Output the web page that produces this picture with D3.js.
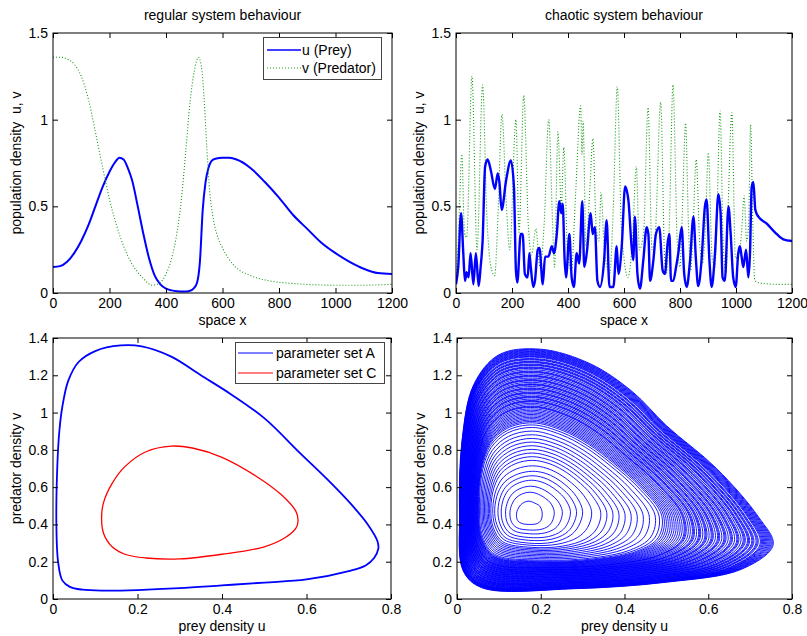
<!DOCTYPE html>
<html>
<head>
<meta charset="utf-8">
<script src="https://cdn.jsdelivr.net/npm/d3@7"></script>
<style>
  body { margin: 0; background: #fff; }
  text { font-family: "Liberation Sans", Arial, sans-serif; font-size: 14px; fill: #000; white-space: pre; }
</style>
</head>
<body>
<svg width="807" height="636"></svg>
<script>
// ---- regular system (top left) ----
const regXu = [0, 25, 50, 75, 100, 125, 150, 175, 200, 220, 235, 250, 265, 280, 300, 320, 340, 360, 380, 400, 420, 440, 460, 480, 500, 510, 520, 530, 540, 550, 560, 575, 600, 625, 650, 700, 750, 800, 850, 900, 950, 1000, 1050, 1100, 1150, 1200];
const regU = [0.15, 0.155, 0.18, 0.23, 0.30, 0.39, 0.50, 0.61, 0.70, 0.755, 0.78, 0.77, 0.72, 0.65, 0.50, 0.34, 0.20, 0.10, 0.05, 0.025, 0.015, 0.01, 0.008, 0.01, 0.03, 0.06, 0.18, 0.48, 0.64, 0.72, 0.76, 0.775, 0.78, 0.78, 0.77, 0.72, 0.64, 0.55, 0.45, 0.37, 0.29, 0.23, 0.18, 0.14, 0.115, 0.11];
const regXv = [0, 25, 50, 75, 100, 125, 150, 175, 200, 225, 250, 275, 300, 325, 350, 375, 400, 420, 440, 455, 470, 485, 500, 515, 525, 535, 545, 555, 565, 580, 600, 640, 700, 760, 850, 1000, 1100, 1200];
const regV = [1.36, 1.36, 1.35, 1.32, 1.25, 1.12, 0.93, 0.73, 0.54, 0.39, 0.27, 0.18, 0.12, 0.075, 0.045, 0.055, 0.11, 0.20, 0.36, 0.55, 0.82, 1.10, 1.28, 1.36, 1.31, 1.12, 0.82, 0.58, 0.45, 0.34, 0.26, 0.16, 0.10, 0.072, 0.055, 0.045, 0.045, 0.05];

// ---- chaotic system (top right) ----
const chaosXu = [0, 8, 18, 26, 32, 38, 45, 52, 62, 71, 81, 88, 95, 104, 113, 124, 139, 149, 155, 163, 179, 196, 207, 214, 219, 231, 238, 246, 256, 262, 267, 276, 282, 292, 298, 310, 318, 330, 342, 350, 360, 369, 376, 381, 388, 393, 405, 413, 421, 431, 440, 451, 458, 467, 481, 488, 496, 505, 514, 529, 538, 548, 562, 574, 580, 592, 604, 616, 627, 633, 639, 648, 657, 669, 681, 687, 693, 705, 714, 726, 738, 746, 756, 762, 768, 776, 786, 794, 806, 815, 824, 836, 848, 857, 865, 877, 889, 895, 905, 913, 925, 937, 945, 952, 960, 973, 981, 990, 999, 1008, 1014, 1020, 1026, 1036, 1044, 1050, 1056, 1062, 1069, 1080, 1110, 1139, 1169, 1200];
const chaosU = [0.05, 0.15, 0.46, 0.23, 0.07, 0.12, 0.09, 0.23, 0.05, 0.23, 0.04, 0.15, 0.30, 0.73, 0.77, 0.71, 0.60, 0.69, 0.64, 0.48, 0.65, 0.765, 0.61, 0.13, 0.06, 0.34, 0.34, 0.11, 0.09, 0.23, 0.15, 0.035, 0.07, 0.25, 0.26, 0.05, 0.21, 0.21, 0.27, 0.23, 0.34, 0.53, 0.46, 0.515, 0.19, 0.09, 0.34, 0.09, 0.035, 0.23, 0.17, 0.53, 0.15, 0.23, 0.46, 0.34, 0.38, 0.07, 0.035, 0.19, 0.42, 0.035, 0.035, 0.27, 0.11, 0.27, 0.615, 0.53, 0.27, 0.19, 0.44, 0.11, 0.025, 0.19, 0.38, 0.34, 0.07, 0.19, 0.34, 0.38, 0.13, 0.11, 0.29, 0.34, 0.07, 0.07, 0.15, 0.23, 0.38, 0.11, 0.035, 0.19, 0.44, 0.19, 0.04, 0.19, 0.50, 0.54, 0.19, 0.035, 0.23, 0.57, 0.46, 0.09, 0.07, 0.50, 0.34, 0.09, 0.035, 0.23, 0.27, 0.21, 0.15, 0.25, 0.09, 0.23, 0.61, 0.64, 0.48, 0.44, 0.40, 0.35, 0.31, 0.30];
const chaosXv = [0, 8, 21, 30, 38, 57, 75, 95, 110, 125, 138, 150, 164, 180, 192, 214, 225, 242, 258, 270, 285, 300, 315, 331, 345, 352, 364, 376, 385, 398, 412, 428, 445, 450, 454, 464, 478, 489, 500, 510, 518, 530, 549, 562, 576, 590, 600, 614, 630, 644, 655, 670, 686, 700, 712, 731, 745, 751, 762, 775, 790, 800, 808, 820, 830, 838, 845, 858, 870, 880, 890, 901, 915, 925, 932, 943, 955, 965, 972, 985, 998, 1010, 1020, 1029, 1038, 1045, 1052, 1060, 1067, 1080, 1100, 1150, 1200];
const chaosV = [0.08, 0.30, 0.80, 0.35, 0.32, 1.25, 0.25, 1.20, 0.45, 0.15, 0.10, 0.45, 1.03, 0.50, 0.25, 1.00, 0.35, 1.14, 0.40, 0.22, 0.37, 0.15, 0.40, 1.00, 0.40, 0.15, 0.93, 0.50, 0.84, 0.25, 0.13, 0.60, 1.08, 0.80, 0.99, 0.27, 0.60, 0.89, 0.40, 0.30, 0.58, 0.25, 0.11, 0.50, 1.19, 0.40, 0.20, 0.09, 0.30, 0.73, 0.25, 0.35, 1.07, 0.25, 0.35, 1.10, 0.20, 0.11, 0.40, 1.20, 0.30, 0.15, 0.45, 0.98, 0.40, 0.13, 0.30, 0.77, 0.30, 0.17, 0.35, 0.81, 0.20, 0.15, 0.45, 1.05, 0.25, 0.12, 0.50, 1.04, 0.20, 0.22, 0.35, 0.56, 0.30, 0.40, 0.97, 0.40, 0.075, 0.06, 0.055, 0.05, 0.05];

// ---- phase plane, regular (bottom left): [u, v] ----
const cycleA = [[0.008, 0.40], [0.01, 0.70], [0.015, 0.90], [0.022, 1.03], [0.036, 1.17], [0.06, 1.27], [0.10, 1.33], [0.16, 1.36], [0.21, 1.355], [0.28, 1.30], [0.35, 1.20], [0.42, 1.10], [0.50, 0.97], [0.586, 0.78], [0.65, 0.64], [0.705, 0.51], [0.745, 0.40], [0.768, 0.31], [0.77, 0.27], [0.76, 0.22], [0.74, 0.18], [0.70, 0.15], [0.60, 0.105], [0.50, 0.088], [0.40, 0.073], [0.30, 0.058], [0.20, 0.048], [0.12, 0.045], [0.07, 0.05], [0.04, 0.065], [0.022, 0.10], [0.012, 0.20]];
const cycleC = [[0.115, 0.44], [0.12, 0.52], [0.14, 0.62], [0.17, 0.71], [0.22, 0.79], [0.28, 0.82], [0.33, 0.81], [0.40, 0.76], [0.48, 0.66], [0.54, 0.56], [0.575, 0.47], [0.58, 0.42], [0.575, 0.38], [0.55, 0.33], [0.50, 0.28], [0.40, 0.24], [0.30, 0.215], [0.22, 0.22], [0.17, 0.24], [0.14, 0.28], [0.12, 0.35]];

// ---- phase plane, chaotic (bottom right): traced key orbits and the orbit levels between them ----
const orbitInner = [[0.203, 0.44], [0.203, 0.47], [0.197, 0.50], [0.190, 0.51], [0.185, 0.515], [0.180, 0.52], [0.172, 0.525], [0.162, 0.52], [0.152, 0.505], [0.145, 0.48], [0.142, 0.455], [0.145, 0.42], [0.155, 0.405], [0.175, 0.40], [0.192, 0.405], [0.200, 0.42]];
const orbitSmall = [[0.29, 0.39], [0.30, 0.47], [0.285, 0.55], [0.26, 0.61], [0.235, 0.65], [0.21, 0.675], [0.18, 0.685], [0.145, 0.67], [0.115, 0.63], [0.098, 0.57], [0.09, 0.48], [0.095, 0.40], [0.115, 0.33], [0.17, 0.30], [0.23, 0.305], [0.27, 0.34]];
const orbitMid = [[0.47, 0.33], [0.48, 0.45], [0.43, 0.60], [0.37, 0.72], [0.31, 0.82], [0.25, 0.89], [0.18, 0.93], [0.12, 0.90], [0.08, 0.82], [0.06, 0.70], [0.052, 0.50], [0.06, 0.33], [0.09, 0.235], [0.20, 0.205], [0.32, 0.215], [0.42, 0.26]];
const orbitOuter = [[0.755, 0.29], [0.72, 0.44], [0.62, 0.70], [0.50, 0.93], [0.42, 1.11], [0.32, 1.26], [0.20, 1.34], [0.10, 1.31], [0.04, 1.15], [0.012, 0.85], [0.006, 0.45], [0.015, 0.15], [0.06, 0.06], [0.28, 0.055], [0.50, 0.09], [0.68, 0.16]];
const orbitKeyLevels = [0, 0.2, 0.45, 1];
const orbitLevels = [0, 0.06, 0.1, 0.14, 0.17, 0.2, 0.23, 0.26, 0.28, 0.30, 0.32, 0.34, 0.36, 0.38, 0.40, 0.42, 0.44, 0.455, 0.47, 0.48, 0.49, 0.50, 0.51, 0.52, 0.53, 0.54, 0.55, 0.56, 0.57, 0.58, 0.585, 0.59, 0.60, 0.61, 0.62, 0.625, 0.63, 0.64, 0.65, 0.655, 0.66, 0.67, 0.68, 0.685, 0.69, 0.70, 0.71, 0.715, 0.72, 0.73, 0.74, 0.745, 0.75, 0.76, 0.77, 0.775, 0.78, 0.79, 0.80, 0.805, 0.81, 0.82, 0.83, 0.835, 0.84, 0.85, 0.86, 0.865, 0.87, 0.88, 0.885, 0.89, 0.90, 0.905, 0.91, 0.92, 0.925, 0.93, 0.94, 0.945, 0.95, 0.955, 0.96, 0.965, 0.97, 0.975, 0.98, 0.985, 0.99, 0.995, 1.0];

// ticks
const spaceTicks = [0, 200, 400, 600, 800, 1000, 1200];
const densityTicks = [0, 0.5, 1, 1.5];
const preyTicks = [0, 0.2, 0.4, 0.6, 0.8];
const predTicks = [0, 0.2, 0.4, 0.6, 0.8, 1, 1.2, 1.4];

const svg = d3.select('svg');

const makeAxes = (id, box, xDomain, yDomain, xTicks, yTicks) => {
    const x = d3.scaleLinear().domain(xDomain).range([box.left, box.right]);
    const y = d3.scaleLinear().domain(yDomain).range([box.bottom, box.top]);
    svg.append('clipPath').attr('id', id)
        .append('rect')
        .attr('x', box.left).attr('y', box.top)
        .attr('width', box.right - box.left).attr('height', box.bottom - box.top);
    const plot = svg.append('g').attr('clip-path', `url(#${id})`);
    const fmt = d => String(+d.toFixed(2));
    const axes = svg.append('g');
    axes.append('g').attr('transform', `translate(0,${box.bottom})`)
        .call(d3.axisBottom(x).tickValues(xTicks).tickSize(-5).tickSizeOuter(0).tickPadding(5).tickFormat(fmt));
    axes.append('g').attr('transform', `translate(0,${box.top})`)
        .call(d3.axisTop(x).tickValues(xTicks).tickSize(-5).tickSizeOuter(0).tickFormat(''));
    axes.append('g').attr('transform', `translate(${box.left},0)`)
        .call(d3.axisLeft(y).tickValues(yTicks).tickSize(-5).tickSizeOuter(0).tickPadding(5).tickFormat(fmt));
    axes.append('g').attr('transform', `translate(${box.right},0)`)
        .call(d3.axisRight(y).tickValues(yTicks).tickSize(-5).tickSizeOuter(0).tickFormat(''));
    axes.selectAll('.domain').remove();
    axes.selectAll('.tick line').attr('stroke', '#000');
    axes.selectAll('.tick text').style('font-size', '14px').style('font-family', '"Liberation Sans", Arial, sans-serif').attr('fill', '#000');
    svg.append('rect')
        .attr('x', box.left).attr('y', box.top)
        .attr('width', box.right - box.left).attr('height', box.bottom - box.top)
        .attr('fill', 'none').attr('stroke', '#000').attr('stroke-width', 1);
    return { x, y, plot, box };
};

const addLabels = (ax, title, xlabel, ylabel) => {
    const cx = (ax.box.left + ax.box.right) / 2;
    const cy = (ax.box.top + ax.box.bottom) / 2;
    if (title) svg.append('text').attr('x', cx).attr('y', ax.box.top - 13)
        .style('text-anchor', 'middle').text(title);
    svg.append('text').attr('x', cx).attr('y', ax.box.bottom + 32)
        .style('text-anchor', 'middle').text(xlabel);
    svg.append('text')
        .attr('transform', `translate(${ax.box.left - 32},${cy}) rotate(-90)`)
        .style('text-anchor', 'middle').text(ylabel);
};

const seriesLine = (ax, xs, ys) => d3.line()
    .x(i => ax.x(xs[i]))
    .y(i => ax.y(ys[i]))
    .curve(d3.curveMonotoneX)(d3.range(xs.length));

// ---------- top left ----------
const tl = makeAxes('c1', { left: 53, right: 392, top: 33, bottom: 293 }, [0, 1200], [0, 1.5], spaceTicks, densityTicks);
tl.plot.append('path').attr('d', seriesLine(tl, regXu, regU))
    .attr('fill', 'none').attr('stroke', '#0000ff').attr('stroke-width', 2);
tl.plot.append('path').attr('d', seriesLine(tl, regXv, regV))
    .attr('fill', 'none').attr('stroke', '#119911').attr('stroke-width', 1.1).attr('stroke-dasharray', '1,2');
addLabels(tl, 'regular system behaviour', 'space x', 'population density  u, v');

// legend top left
const lg1 = svg.append('g');
lg1.append('rect').attr('x', 263.5).attr('y', 37.5).attr('width', 118).attr('height', 42)
    .attr('fill', '#fff').attr('stroke', '#444');
lg1.append('line').attr('x1', 267).attr('x2', 301).attr('y1', 50).attr('y2', 50)
    .attr('stroke', '#0000ff').attr('stroke-width', 1.5);
lg1.append('line').attr('x1', 267).attr('x2', 301).attr('y1', 68).attr('y2', 68)
    .attr('stroke', '#119911').attr('stroke-dasharray', '1,2');
lg1.append('text').attr('x', 302).attr('y', 55).text('u (Prey)');
lg1.append('text').attr('x', 302).attr('y', 73).text('v (Predator)');

// ---------- top right ----------
const tr = makeAxes('c2', { left: 456, right: 792, top: 33, bottom: 293 }, [0, 1200], [0, 1.5], spaceTicks, densityTicks);
tr.plot.append('path').attr('d', seriesLine(tr, chaosXv, chaosV))
    .attr('fill', 'none').attr('stroke', '#119911').attr('stroke-width', 1.1).attr('stroke-dasharray', '1,2');
tr.plot.append('path').attr('d', seriesLine(tr, chaosXu, chaosU))
    .attr('fill', 'none').attr('stroke', '#0000ff').attr('stroke-width', 2.4);
addLabels(tr, 'chaotic system behaviour', 'space x', 'population density  u, v');

// ---------- bottom left ----------
const bl = makeAxes('c3', { left: 53, right: 391, top: 338, bottom: 599 }, [0, 0.8], [0, 1.4], preyTicks, predTicks);
const phaseLine = ax => d3.line().x(d => ax.x(d[0])).y(d => ax.y(d[1])).curve(d3.curveCatmullRomClosed);
bl.plot.append('path').attr('d', phaseLine(bl)(cycleA))
    .attr('fill', 'none').attr('stroke', '#0000ff').attr('stroke-width', 1.8);
bl.plot.append('path').attr('d', phaseLine(bl)(cycleC))
    .attr('fill', 'none').attr('stroke', '#ff0000').attr('stroke-width', 1.3);
addLabels(bl, null, 'prey density u', 'predator density v');

const lg2 = svg.append('g');
lg2.append('rect').attr('x', 235.5).attr('y', 342.5).attr('width', 149).attr('height', 41)
    .attr('fill', '#fff').attr('stroke', '#444');
lg2.append('line').attr('x1', 238).attr('x2', 273).attr('y1', 353).attr('y2', 353)
    .attr('stroke', '#0000ff');
lg2.append('line').attr('x1', 238).attr('x2', 273).attr('y1', 373).attr('y2', 373)
    .attr('stroke', '#ff0000');
lg2.append('text').attr('x', 276).attr('y', 358).text('parameter set A');
lg2.append('text').attr('x', 276).attr('y', 378).text('parameter set C');

// ---------- bottom right ----------
const br = makeAxes('c4', { left: 457, right: 792, top: 338, bottom: 599 }, [0, 0.8], [0, 1.4], preyTicks, predTicks);
const orbitKeys = [orbitInner, orbitSmall, orbitMid, orbitOuter];
const orbitAt = t => {
    const k = Math.min(d3.bisectRight(orbitKeyLevels, t) - 1, orbitKeys.length - 2);
    const f = (t - orbitKeyLevels[k]) / (orbitKeyLevels[k + 1] - orbitKeyLevels[k]);
    return orbitKeys[k].map((p, i) => {
        const q = orbitKeys[k + 1][i];
        return [p[0] + (q[0] - p[0]) * f, p[1] + (q[1] - p[1]) * f];
    });
};
br.plot.selectAll('path.orbit').data(orbitLevels).join('path')
    .attr('class', 'orbit')
    .attr('d', t => phaseLine(br)(orbitAt(t)))
    .attr('fill', 'none').attr('stroke', '#0000ff').attr('stroke-width', 0.9);
addLabels(br, null, 'prey density u', 'predator density v');
</script>
</body>
</html>
